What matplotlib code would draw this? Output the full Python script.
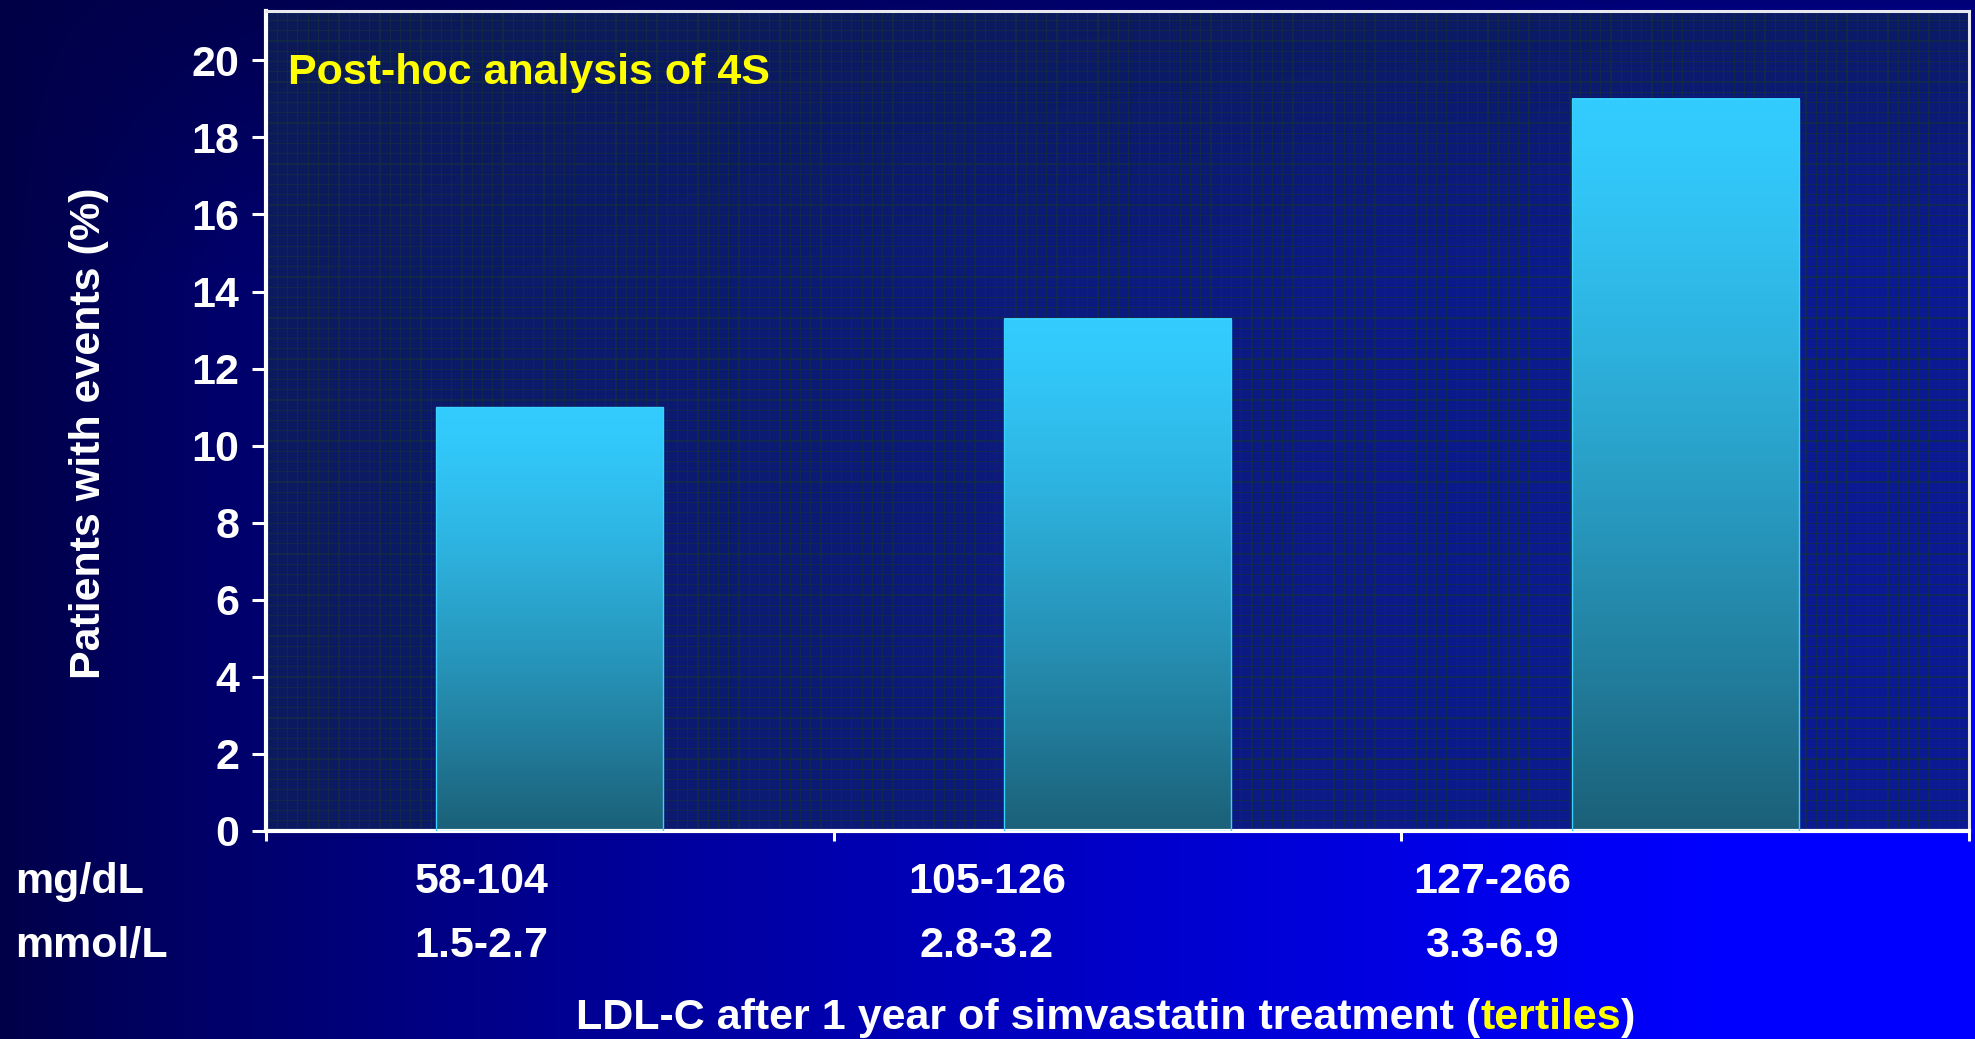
import numpy as np
import matplotlib
matplotlib.use('Agg')
import matplotlib.pyplot as plt
from matplotlib.transforms import blended_transform_factory

plt.rcParams['font.family'] = ['Liberation Sans', 'DejaVu Sans']
plt.rcParams['font.weight'] = 'bold'

# patients with events (%) per LDL-C tertile
tertiles = [0, 1, 2]
events_pct = [11.0, 13.3, 19.0]
mg_dl = ['58-104', '105-126', '127-266']
mmol_l = ['1.5-2.7', '2.8-3.2', '3.3-6.9']
y_ticks = [0, 2, 4, 6, 8, 10, 12, 14, 16, 18, 20]
label_x = [-0.12, 0.77, 1.66]   # range labels sit left of the bar centres

W, H = 1975, 1039
fig = plt.figure(figsize=(W / 100, H / 100), dpi=100)
FS = 31

# axes box in pixels
ax_l, ax_r, ax_t, ax_b = 266, 1969, 11, 831
y_top = 21.28


def backdrop_blue(px, py):
    # dark navy top-left -> pure blue bottom-right
    X, Y = np.meshgrid(px / W, py / H)
    g = np.clip(0.27 + 2.7 * Y, 0, 1)
    s = np.clip(X * 1.15, 0, 1) ** 0.8 * g
    return 70 + 185 * s


# slide background
bg = np.zeros((H, W, 3))
bg[..., 2] = backdrop_blue(np.arange(W), np.arange(H)) / 255
bg_ax = fig.add_axes([0, 0, 1, 1], zorder=-10)
bg_ax.imshow(bg, aspect='auto', extent=[0, 1, 0, 1], interpolation='nearest')
bg_ax.axis('off')

ax = fig.add_axes([ax_l / W, 1 - ax_b / H, (ax_r - ax_l) / W, (ax_b - ax_t) / H])
ax.set_facecolor('none')

# plot area: darker tinted panel with a fine grid
px = np.arange(ax_l, ax_r)
py = np.arange(ax_t, ax_b)
face = np.zeros((len(py), len(px), 3))
face[..., 0] = 11
face[..., 1] = 26
face[..., 2] = 55 + 0.36 * backdrop_blue(px, py)
step = (ax_r - ax_l) / 166
gx = ((px - ax_l) % step) < 1.2
gy = ((ax_b - py) % step) < 1.2
line_rgb = np.array([20, 46, 62])
face[:, gx] = face[:, gx] * 0.35 + line_rgb * 0.65
face[gy, :] = face[gy, :] * 0.35 + line_rgb * 0.65
ax.imshow(face / 255, extent=[-0.5, 2.5, 0, y_top], aspect='auto',
          interpolation='nearest', zorder=0)

# bars with a vertical cyan -> teal gradient
top_c = np.array([51, 204, 255]) / 255
bot_c = np.array([27, 96, 120]) / 255
bars = ax.bar(tertiles, events_pct, width=0.4, facecolor='none',
              edgecolor='#3cd0ff', linewidth=1.0, zorder=3)
for b in bars:
    t = np.linspace(0, 1, 256) ** 1.3
    grad = (top_c + (bot_c - top_c) * t[:, None])[:, None, :]
    x0 = b.get_x()
    ax.imshow(grad, extent=[x0, x0 + b.get_width(), 0, b.get_height()],
              aspect='auto', zorder=2)

ax.set_xlim(-0.5, 2.5)
ax.set_ylim(0, y_top)

for side in ['left', 'bottom']:
    ax.spines[side].set_color('white')
    ax.spines[side].set_linewidth(3)
for side in ['top', 'right']:
    ax.spines[side].set_color('#e8e8f0')
    ax.spines[side].set_linewidth(2.2)

ax.set_yticks(y_ticks)
ax.set_xticks([-0.5, 0.5, 1.5, 2.5])
ax.set_xticklabels([])
ax.tick_params(axis='y', direction='out', length=10, width=2.2, colors='white',
               labelsize=FS, pad=9)
ax.tick_params(axis='x', direction='out', length=7, width=2.2, colors='white')
for lab in ax.get_yticklabels():
    lab.set_fontweight('bold')

ax.text(0.013, 0.924, 'Post-hoc analysis of 4S', transform=ax.transAxes,
        color='#ffff00', fontsize=FS, fontweight='bold', ha='left', va='center')

fig.text(89 / W, 1 - 433 / H, 'Patients with events (%)', rotation=90,
         color='white', fontsize=FS, fontweight='bold', ha='center', va='center')

# unit rows under the axis
trans = blended_transform_factory(ax.transData, fig.transFigure)
fig.text(15 / W, 1 - 882 / H, 'mg/dL', color='white', fontsize=FS,
         fontweight='bold', ha='left', va='center')
fig.text(15 / W, 1 - 946 / H, 'mmol/L', color='white', fontsize=FS,
         fontweight='bold', ha='left', va='center')
for x, a, m in zip(label_x, mg_dl, mmol_l):
    ax.text(x, 1 - 882 / H, a, transform=trans, color='white', fontsize=FS,
            fontweight='bold', ha='center', va='center', clip_on=False)
    ax.text(x, 1 - 946 / H, m, transform=trans, color='white', fontsize=FS,
            fontweight='bold', ha='center', va='center', clip_on=False)

t1 = fig.text(576 / W, 1 - 1018 / H, 'LDL-C after 1 year of simvastatin treatment (',
              color='white', fontsize=FS, fontweight='bold', ha='left', va='center')
t2 = plt.annotate('tertiles', xy=(1, 0), xycoords=t1, color='#ffff00',
                  fontsize=FS, fontweight='bold', ha='left', va='bottom')
plt.annotate(')', xy=(1, 0), xycoords=t2, color='white',
             fontsize=FS, fontweight='bold', ha='left', va='bottom')

fig.savefig('out.png', dpi=100)
